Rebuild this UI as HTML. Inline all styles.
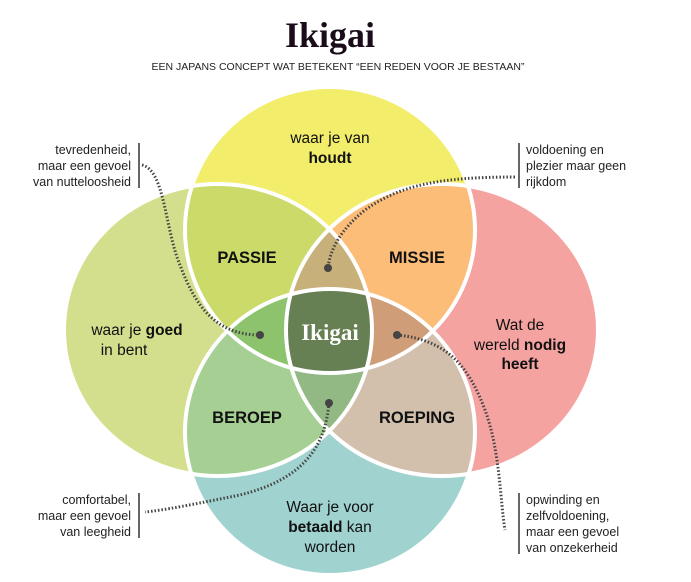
<!DOCTYPE html>
<html><head><meta charset="utf-8"><style>
body{margin:0;background:#fff;}
svg{display:block;font-family:"Liberation Sans",sans-serif;}
</style></head><body>
<svg width="691" height="582" viewBox="0 0 691 582">
<defs>
<ellipse id="T" cx="330" cy="230" rx="145" ry="143"/>
<ellipse id="L" cx="218" cy="330" rx="154" ry="146"/>
<ellipse id="R" cx="442" cy="330" rx="156" ry="146"/>
<ellipse id="B" cx="330" cy="432" rx="145" ry="143"/>
<clipPath id="cT"><use href="#T"/></clipPath>
<clipPath id="cL"><use href="#L"/></clipPath>
<clipPath id="cR"><use href="#R"/></clipPath>
<clipPath id="cB"><use href="#B"/></clipPath>
</defs>
<text x="330" y="47" text-anchor="middle" font-family="Liberation Serif,serif" font-weight="bold" font-size="36" fill="#1a0c1a">Ikigai</text>
<text x="338" y="70" text-anchor="middle" font-size="10.5" fill="#222">EEN JAPANS CONCEPT WAT BETEKENT “EEN REDEN VOOR JE BESTAAN”</text>
<use href="#L" fill="#d3df8c"/>
<use href="#R" fill="#f5a3a1"/>
<use href="#T" fill="#f3ed6c"/>
<use href="#B" fill="#a0d3cf"/>
<g clip-path="url(#cT)"><use href="#L" fill="#ccda6a"/><use href="#R" fill="#fcbd78"/></g>
<g clip-path="url(#cB)"><use href="#L" fill="#a6cf93"/><use href="#R" fill="#d2bfac"/></g>
<g clip-path="url(#cT)"><g clip-path="url(#cL)"><use href="#R" fill="#c8b07a"/></g></g>
<g clip-path="url(#cT)"><g clip-path="url(#cL)"><use href="#B" fill="#8dc36c"/></g></g>
<g clip-path="url(#cT)"><g clip-path="url(#cR)"><use href="#B" fill="#cf9e78"/></g></g>
<g clip-path="url(#cB)"><g clip-path="url(#cL)"><use href="#R" fill="#92b883"/></g></g>
<g clip-path="url(#cT)"><g clip-path="url(#cL)"><g clip-path="url(#cR)"><use href="#B" fill="#667f53"/></g></g></g>
<g fill="none" stroke="#fff" stroke-width="4">
<use href="#T"/><use href="#L"/><use href="#R"/><use href="#B"/>
</g>
<g font-size="15.5" fill="#111" text-anchor="middle">
<text x="330" y="143">waar je van</text>
<text x="330" y="163" font-weight="bold">houdt</text>
<text x="137" y="335">waar je <tspan font-weight="bold">goed</tspan></text>
<text x="124" y="355">in bent</text>
<text x="520" y="330">Wat de</text>
<text x="520" y="350">wereld <tspan font-weight="bold">nodig</tspan></text>
<text x="520" y="369" font-weight="bold">heeft</text>
<text x="330" y="512">Waar je voor</text>
<text x="330" y="532"><tspan font-weight="bold">betaald</tspan> kan</text>
<text x="330" y="552">worden</text>
</g>
<g font-size="16.5" font-weight="bold" fill="#111" text-anchor="middle">
<text x="247" y="263">PASSIE</text>
<text x="417" y="263">MISSIE</text>
<text x="247" y="423">BEROEP</text>
<text x="417" y="423">ROEPING</text>
</g>
<text x="330" y="340" text-anchor="middle" font-family="Liberation Serif,serif" font-weight="bold" font-size="23" fill="#fff">Ikigai</text>
<g font-size="12.5" fill="#222">
<g text-anchor="end">
<text x="131" y="154">tevredenheid,</text>
<text x="131" y="170">maar een gevoel</text>
<text x="131" y="186">van nutteloosheid</text>
<text x="131" y="504">comfortabel,</text>
<text x="131" y="520">maar een gevoel</text>
<text x="131" y="536">van leegheid</text>
</g>
<text x="526" y="154">voldoening en</text>
<text x="526" y="170">plezier maar geen</text>
<text x="526" y="186">rijkdom</text>
<text x="526" y="504">opwinding en</text>
<text x="526" y="520">zelfvoldoening,</text>
<text x="526" y="536">maar een gevoel</text>
<text x="526" y="552">van onzekerheid</text>
</g>
<g stroke="#333" stroke-width="1.5">
<line x1="139" y1="143" x2="139" y2="188"/>
<line x1="519" y1="143" x2="519" y2="188"/>
<line x1="139" y1="493" x2="139" y2="538"/>
<line x1="519" y1="493" x2="519" y2="554"/>
</g>
<g fill="none" stroke="#444" stroke-width="3" stroke-dasharray="1.5 2">
<path d="M142 165 C165 170 165 230 180 265 C195 305 215 335 260 335"/>
<path d="M515 177 C440 177 400 185 365 210 C340 230 330 250 328 268"/>
<path d="M397 335 C450 340 470 370 485 410 C500 450 500 500 505 530"/>
<path d="M329 403 C325 450 300 480 240 495 C190 505 165 510 145 512"/>
</g>
<g fill="#444">
<circle cx="260" cy="335" r="4"/>
<circle cx="328" cy="268" r="4"/>
<circle cx="397" cy="335" r="4"/>
<circle cx="329" cy="403" r="4"/>
</g>
</svg>
</body></html>
